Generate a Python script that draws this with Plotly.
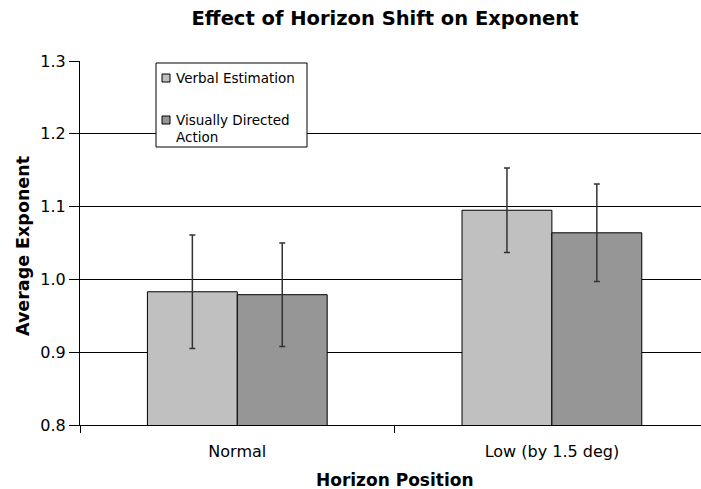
import plotly.graph_objects as go

categories = ["Normal", "Low (by 1.5 deg)"]
series_names = ["Verbal Estimation", "Visually Directed<br>Action"]
verbal_values = [0.983, 1.095]
verbal_errors = [0.078, 0.058]
vda_values = [0.979, 1.064]
vda_errors = [0.071, 0.067]
y_ticks = [0.8, 0.9, 1.0, 1.1, 1.2, 1.3]

colors = ["#C0C0C0", "#969696"]
FONT = "Verdana, DejaVu Sans, sans-serif"

W, H = 701, 489
L, R, T, B = 80, 0, 61, 64
PW, PH = W - L - R, H - T - B


def px(x):
    return (x - L) / PW


def py(y):
    return (T + PH - y) / PH


fig = go.Figure()
for name, vals, errs, col in [
    (series_names[0], verbal_values, verbal_errors, colors[0]),
    (series_names[1], vda_values, vda_errors, colors[1]),
]:
    fig.add_trace(go.Bar(
        x=categories, y=vals, name=name, showlegend=False,
        marker=dict(color=col, line=dict(color="#000000", width=1)),
        error_y=dict(type="data", array=errs, visible=True,
                     color="#333333", thickness=1.5, width=3),
    ))

shapes = [
    dict(type="rect", xref="paper", yref="paper",
         x0=px(156), x1=px(307), y0=py(63), y1=py(147),
         line=dict(color="#000000", width=1), fillcolor="white", layer="above"),
    dict(type="rect", xref="paper", yref="paper",
         x0=px(162), x1=px(170), y0=py(74), y1=py(82),
         line=dict(color="#000000", width=1), fillcolor=colors[0], layer="above"),
    dict(type="rect", xref="paper", yref="paper",
         x0=px(162), x1=px(170), y0=py(116), y1=py(124),
         line=dict(color="#000000", width=1), fillcolor=colors[1], layer="above"),
]

annotations = [
    dict(text="Verbal Estimation", xref="paper", yref="paper",
         x=px(174), y=py(78), xanchor="left", yanchor="middle",
         showarrow=False, font=dict(family=FONT, size=13.5, color="black")),
    dict(text="Visually Directed", xref="paper", yref="paper",
         x=px(174), y=py(120), xanchor="left", yanchor="middle",
         showarrow=False, font=dict(family=FONT, size=13.5, color="black")),
    dict(text="Action", xref="paper", yref="paper",
         x=px(174), y=py(137), xanchor="left", yanchor="middle",
         showarrow=False, font=dict(family=FONT, size=13.5, color="black")),
    dict(text="<b>Horizon Position</b>", xref="paper", yref="paper",
         x=px(395), y=py(480), xanchor="center", yanchor="middle",
         showarrow=False, font=dict(family=FONT, size=17, color="black")),
    dict(text="<b>Average Exponent</b>", xref="paper", yref="paper",
         x=px(23), y=py(246), xanchor="center", yanchor="middle", textangle=-90,
         showarrow=False, font=dict(family=FONT, size=17.5, color="black")),
]

fig.update_layout(
    width=W, height=H,
    margin=dict(l=L, r=R, t=T, b=B, pad=0),
    paper_bgcolor="white", plot_bgcolor="white",
    font=dict(family=FONT, size=16, color="black"),
    title=dict(text="<b>Effect of Horizon Shift on Exponent</b>",
               x=385 / W, xref="container", xanchor="center",
               y=1 - 18 / H, yref="container", yanchor="middle",
               font=dict(family=FONT, size=19.5, color="black")),
    barmode="group", bargap=0.4286, bargroupgap=0,
    shapes=shapes, annotations=annotations,
    xaxis=dict(type="category", range=[-0.5, (W - R - 236.7) / 315],
               tickson="boundaries", ticks="outside", ticklen=7,
               tickcolor="black", showline=True, linecolor="black", linewidth=1,
               showgrid=False, tickfont=dict(size=16), automargin=False,
               ticklabelstandoff=12),
    yaxis=dict(range=[0.8, 1.3], tickvals=y_ticks, tickformat=".1f",
               ticks="outside", ticklen=10, tickcolor="black",
               showline=True, linecolor="black", linewidth=1,
               showgrid=True, gridcolor="#000000", gridwidth=1,
               zeroline=False, tickfont=dict(size=16), automargin=False),
)

fig.write_html(
    "out.html",
    config={"displayModeBar": False},
    post_script="document.documentElement.style.overflow='hidden';document.body.style.margin='0';document.body.style.overflow='hidden';",
)
